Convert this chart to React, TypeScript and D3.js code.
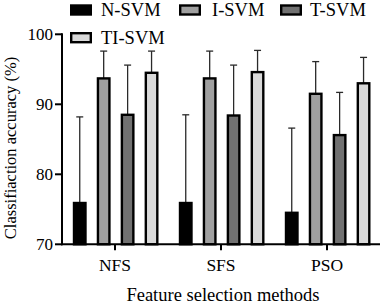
import React from "react";
import * as d3 from "d3";

const categories = ["NFS", "SFS", "PSO"];
const seriesNames = ["N-SVM", "I-SVM", "T-SVM", "TI-SVM"];
const seriesColors = ["#000000", "#a0a0a0", "#717171", "#d9d9d9"];
const nsvm = [75.9, 75.9, 74.5];
const isvm = [93.7, 93.7, 91.5];
const tsvm = [88.5, 88.4, 85.6];
const tisvm = [94.5, 94.6, 93.0];
const nsvmErr = [12.3, 12.6, 12.1];
const isvmErr = [3.9, 3.9, 4.6];
const tsvmErr = [7.1, 7.2, 6.1];
const tisvmErr = [3.1, 3.1, 3.7];
const yTicks = [70, 80, 90, 100];

const W = 383;
const H = 305;
const FONT = "'Liberation Serif', 'Times New Roman', serif";

export default function App() {
  const values = [nsvm, isvm, tsvm, tisvm];
  const errs = [nsvmErr, isvmErr, tsvmErr, tisvmErr];
  const y = d3.scaleLinear().domain([70, 100]).range([244.3, 34.3]);
  const x = d3.scaleBand().domain(categories).range([62, 380]).padding(0);
  const xs = d3
    .scaleBand()
    .domain(seriesNames)
    .range([10.8, 96.5])
    .paddingInner(0.42)
    .paddingOuter(0);
  const bw = xs.bandwidth();

  const legendItems = [
    { name: seriesNames[0], color: seriesColors[0], sx: 70, sy: 10, tx: 101 },
    { name: seriesNames[1], color: seriesColors[1], sx: 179, sy: 10, tx: 212 },
    { name: seriesNames[2], color: seriesColors[2], sx: 280, sy: 10, tx: 310 },
    { name: seriesNames[3], color: seriesColors[3], sx: 70, sy: 37.7, tx: 101 },
  ];

  return (
    <svg
      width={W}
      height={H}
      style={{ position: "absolute", left: 0, top: 0, background: "#fff" }}
      fontFamily={FONT}
    >
      <rect x={0} y={0} width={W} height={H} fill="#fff" />
      {categories.map((c, ci) => (
        <g key={c}>
          {seriesNames.map((s, si) => {
            const v = values[si][ci];
            const e = errs[si][ci];
            const bx = (x(c) as number) + (xs(s) as number);
            const cx = bx + bw / 2;
            return (
              <g key={s}>
                <line
                  x1={cx}
                  x2={cx}
                  y1={y(v)}
                  y2={y(v + e)}
                  stroke="#2a2a2a"
                  strokeWidth={1.3}
                />
                <line
                  x1={cx - 3.5}
                  x2={cx + 3.5}
                  y1={y(v + e)}
                  y2={y(v + e)}
                  stroke="#2a2a2a"
                  strokeWidth={1.3}
                />
                <rect
                  x={bx + 1.2}
                  y={y(v)}
                  width={bw - 2.4}
                  height={y(70) - y(v)}
                  fill={seriesColors[si]}
                  stroke="#000"
                  strokeWidth={2.4}
                />
              </g>
            );
          })}
        </g>
      ))}
      <line x1={62} x2={62} y1={y(100) - 1} y2={y(70) + 1} stroke="#000" strokeWidth={2} />
      {yTicks.map((t) => (
        <g key={t}>
          <line x1={55} x2={62} y1={y(t)} y2={y(t)} stroke="#000" strokeWidth={2} />
          <text
            x={53}
            y={y(t)}
            textAnchor="end"
            dominantBaseline="central"
            fontSize={17}
            fill="#000"
          >
            {t}
          </text>
        </g>
      ))}
      <line x1={61} x2={380} y1={y(70)} y2={y(70)} stroke="#000" strokeWidth={2} />
      {categories.map((c) => {
        const cx = (x(c) as number) + x.bandwidth() / 2;
        return (
          <g key={c}>
            <line x1={cx} x2={cx} y1={y(70)} y2={y(70) + 6} stroke="#000" strokeWidth={2} />
            <text x={cx} y={270.5} textAnchor="middle" fontSize={17.5} fill="#000">
              {c}
            </text>
          </g>
        );
      })}
      <text x={223} y={300.5} textAnchor="middle" fontSize={18.5} fill="#000">
        Feature selection methods
      </text>
      <text
        transform="translate(16,148) rotate(-90)"
        textAnchor="middle"
        fontSize={16.5}
        fill="#000"
      >
        Classifiaction accuracy (%)
      </text>
      {legendItems.map((it) => (
        <g key={it.name}>
          <rect
            x={it.sx + 1.2}
            y={it.sy - 4.5}
            width={19.6}
            height={9}
            fill={it.color}
            stroke="#000"
            strokeWidth={2.4}
          />
          <text
            x={it.tx}
            y={it.sy}
            dominantBaseline="central"
            fontSize={18.5}
            fill="#000"
          >
            {it.name}
          </text>
        </g>
      ))}
    </svg>
  );
}
